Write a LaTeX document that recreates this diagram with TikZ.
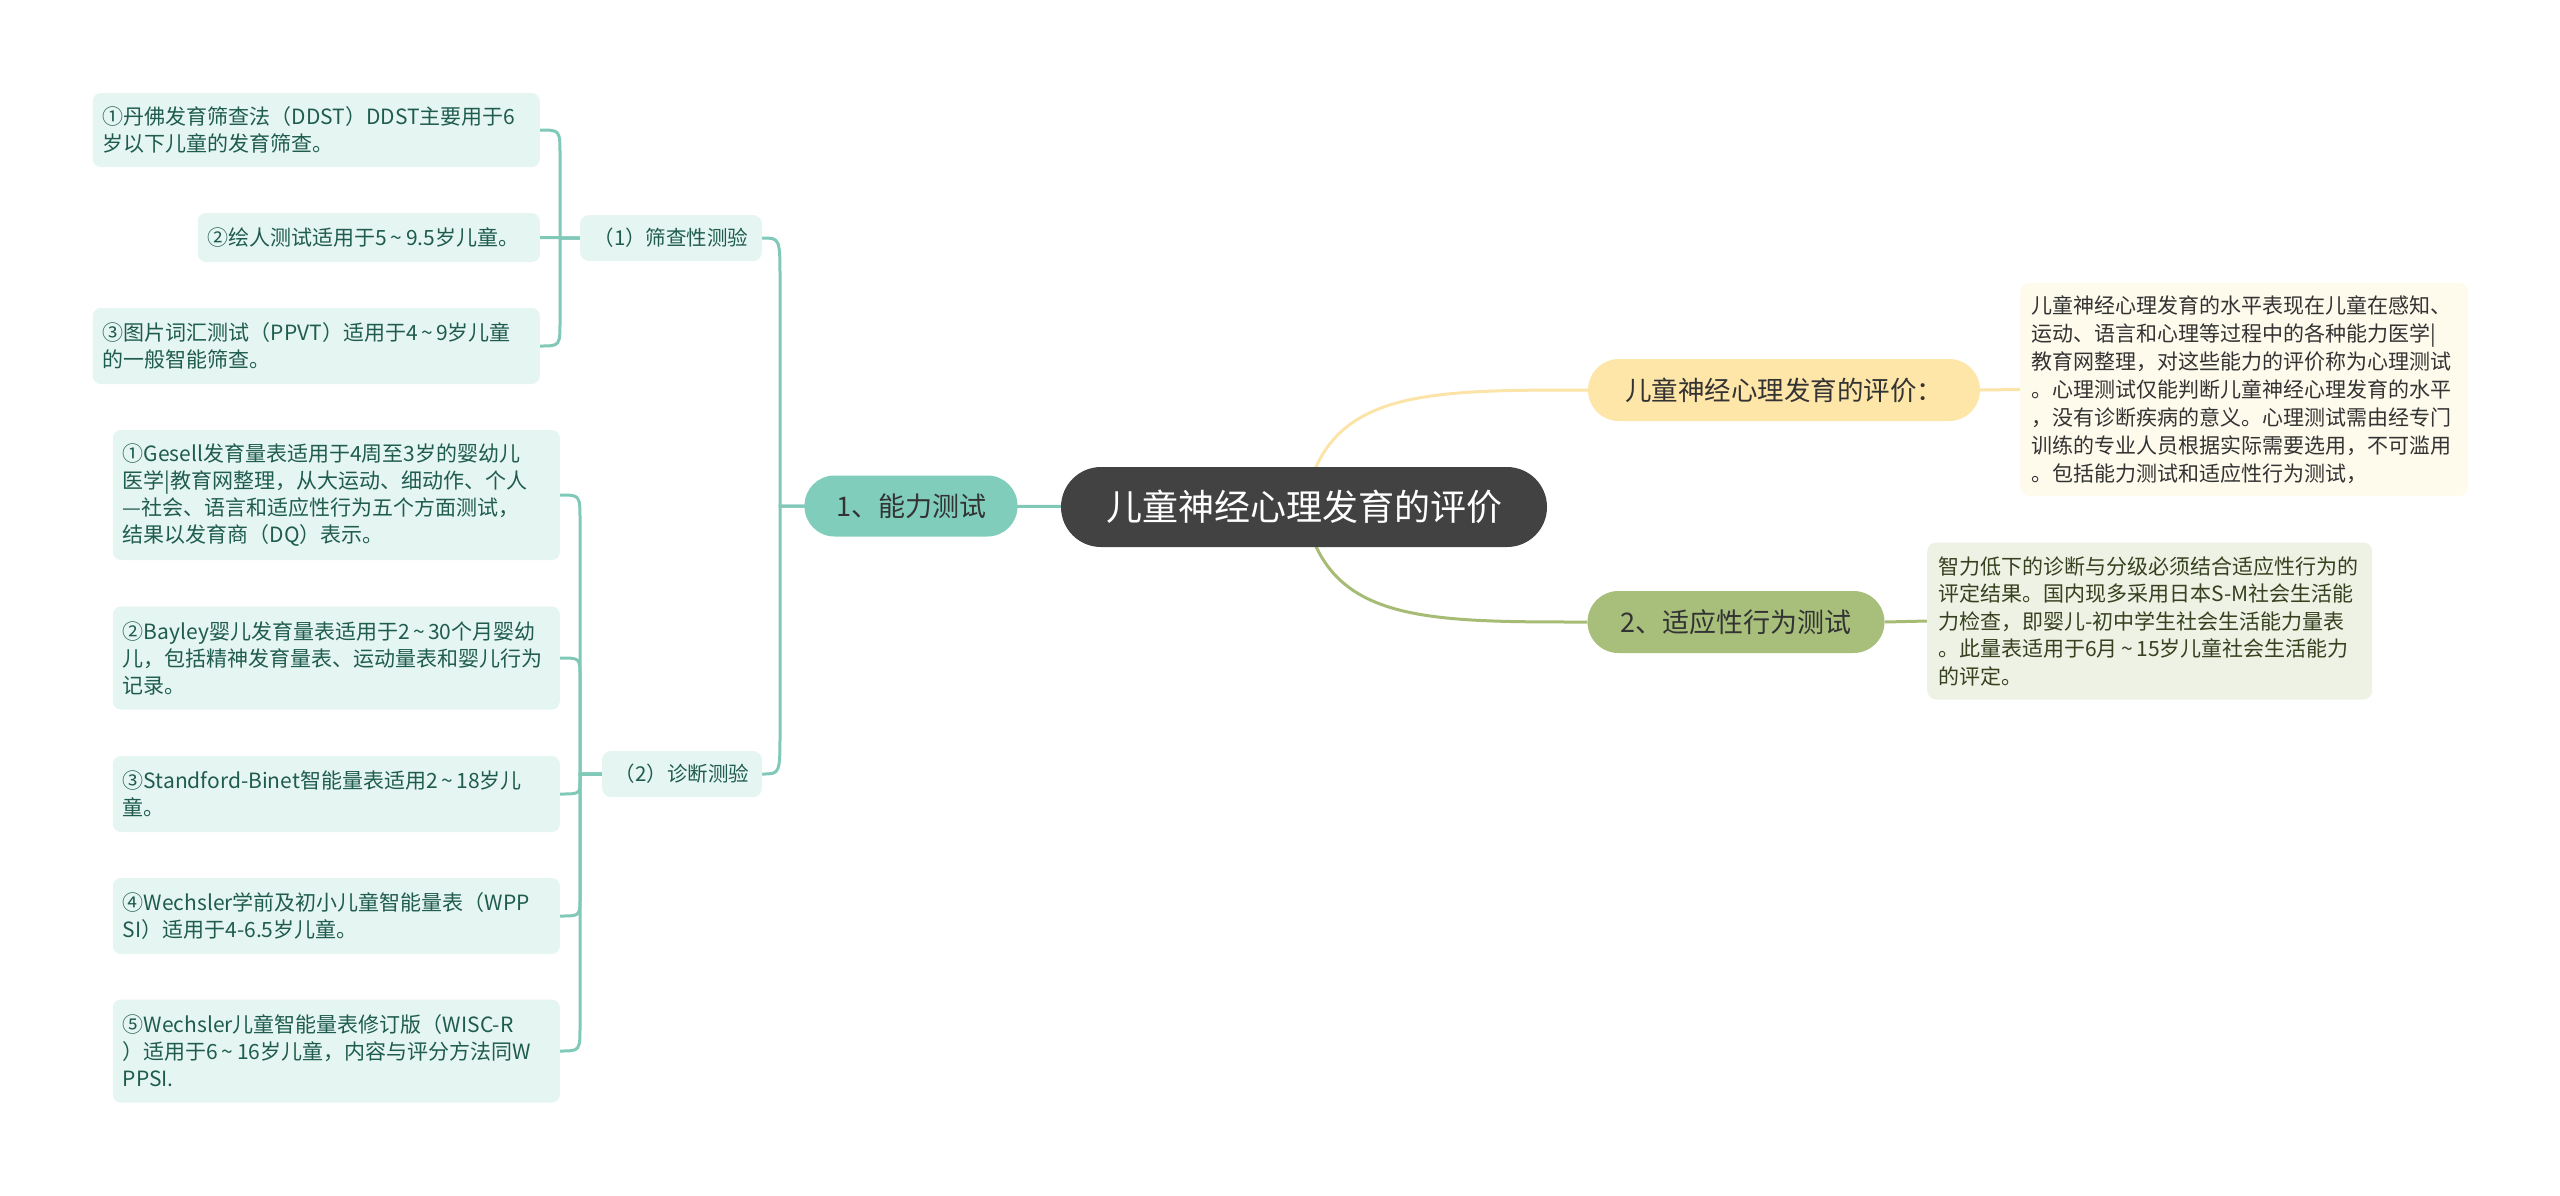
\documentclass[tikz,border=0pt]{standalone}
\usepackage{fontspec}
\setmainfont{Noto Sans CJK SC}
\usepackage{tikz}
\usetikzlibrary{backgrounds}
\definecolor{rootgray}{HTML}{424242}
\definecolor{tealnode}{HTML}{80CDBC}
\definecolor{tealline}{HTML}{80C8B8}
\definecolor{tealleaf}{HTML}{E5F5F1}
\definecolor{tealtext}{HTML}{1F5C4F}
\definecolor{yellownode}{HTML}{FEE5A8}
\definecolor{yellowline}{HTML}{FCE4A8}
\definecolor{yellowdesc}{HTML}{FEFAEC}
\definecolor{greennode}{HTML}{A7BF7B}
\definecolor{greenline}{HTML}{A6BB74}
\definecolor{greendesc}{HTML}{EEF2E5}
\definecolor{greentext}{HTML}{37401F}
\definecolor{darktext}{HTML}{333333}
\newcommand{\wave}{\,\textasciitilde\,}

\begin{document}
\begin{tikzpicture}[x=1pt,y=-1pt,line cap=round,line join=round,
  leafbox/.style={fill=tealleaf,text=tealtext,rounded corners=8pt,align=left,
    inner xsep=10pt,inner ysep=0pt,anchor=east,font=\fontsize{21}{27}\selectfont},
  subbox/.style={fill=tealleaf,text=tealtext,rounded corners=9pt,inner sep=0pt,
    minimum height=46pt,font=\fontsize{20.5}{25}\selectfont},
  descbox/.style={rounded corners=9pt,align=left,inner xsep=11pt,inner ysep=0pt,anchor=west},
  tealwire/.style={draw=tealline,line width=3pt},
  yellowwire/.style={draw=yellowline,line width=3pt},
  greenwire/.style={draw=greenline,line width=3pt}]
\useasboundingbox (0,0) rectangle (2560,1195);

\node[fill=rootgray,text=white,rounded corners=40pt,minimum width=486pt,minimum height=80pt,
  inner sep=0pt,font=\fontsize{36}{40}\selectfont] (root) at (1304,507) {儿童神经心理发育的评价};

\node[fill=tealnode,text=darktext,rounded corners=30pt,minimum width=213pt,minimum height=61pt,
  inner sep=0pt,font=\fontsize{27}{30}\selectfont] (ability) at (911,506) {1、能力测试};
\node[fill=yellownode,text=darktext,rounded corners=31pt,minimum width=392pt,minimum height=62pt,
  inner sep=0pt,font=\fontsize{26.5}{30}\selectfont] (evaluation) at (1784,390) {儿童神经心理发育的评价：};
\node[fill=greennode,text=darktext,rounded corners=31pt,minimum width=297pt,minimum height=62pt,
  inner sep=0pt,font=\fontsize{27}{30}\selectfont] (adaptive) at (1736,622) {2、适应性行为测试};

\node[subbox,minimum width=182pt] (screening) at (671,238) {（1）筛查性测验};
\node[subbox,minimum width=160pt] (diagnosis) at (682,774) {（2）诊断测验};

\node[leafbox,text width=427pt,minimum height=74pt] (ddst) at (540,130)
  {①丹佛发育筛查法（DDST）DDST主要用于6\\岁以下儿童的发育筛查。};
\node[leafbox,text width=322pt,minimum height=49pt] (draw) at (540,237.5)
  {②绘人测试适用于5\wave 9.5岁儿童。};
\node[leafbox,text width=427pt,minimum height=76pt] (ppvt) at (540,346)
  {③图片词汇测试（PPVT）适用于4\wave 9岁儿童\\的一般智能筛查。};

\node[leafbox,text width=427pt,minimum height=130pt] (gesell) at (560,495)
  {①Gesell发育量表适用于4周至3岁的婴幼儿\\医学|教育网整理，从大运动、细动作、个人\\—社会、语言和适应性行为五个方面测试，\\结果以发育商（DQ）表示。};
\node[leafbox,text width=427pt,minimum height=103pt] (bayley) at (560,658)
  {②Bayley婴儿发育量表适用于2\wave 30个月婴幼\\儿，包括精神发育量表、运动量表和婴儿行为\\记录。};
\node[leafbox,text width=427pt,minimum height=76pt] (binet) at (560,794)
  {③Standford-Binet智能量表适用2\wave 18岁儿\\童。};
\node[leafbox,text width=427pt,minimum height=76pt] (wppsi) at (560,916)
  {④Wechsler学前及初小儿童智能量表（WPP\\SI）适用于4-6.5岁儿童。};
\node[leafbox,text width=427pt,minimum height=103pt] (wisc) at (560,1051)
  {⑤Wechsler儿童智能量表修订版（WISC-R\\）适用于6\wave 16岁儿童，内容与评分方法同W\\PPSI.};

\node[descbox,fill=yellowdesc,text=darktext,text width=426pt,minimum height=213pt,
  font=\fontsize{21}{28}\selectfont] (evaldesc) at (2020,389.5)
  {儿童神经心理发育的水平表现在儿童在感知、\\运动、语言和心理等过程中的各种能力医学|\\教育网整理，对这些能力的评价称为心理测试\\。心理测试仅能判断儿童神经心理发育的水平\\，没有诊断疾病的意义。心理测试需由经专门\\训练的专业人员根据实际需要选用，不可滥用\\。包括能力测试和适应性行为测试，};
\node[descbox,fill=greendesc,text=greentext,text width=423pt,minimum height=157pt,
  font=\fontsize{21}{27.5}\selectfont] (adaptdesc) at (1927,621)
  {智力低下的诊断与分级必须结合适应性行为的\\评定结果。国内现多采用日本S-M社会生活能\\力检查，即婴儿-初中学生社会生活能力量表\\。此量表适用于6月\wave 15岁儿童社会生活能力\\的评定。};

\begin{scope}[on background layer]
\draw[tealwire] (root.center) -- (ability.center);
\draw[tealwire] (ability.center) -- (780,506) -- (780,280) .. controls (780,238) .. (screening.east);
\draw[tealwire] (ability.center) -- (780,506) -- (780,732) .. controls (780,774) .. (diagnosis.east);
\draw[tealwire] (ddst.east) .. controls (560,130) .. (560,155) -- (560,238) -- (screening.west);
\draw[tealwire] (draw.east) -- (screening.west);
\draw[tealwire] (ppvt.east) .. controls (560,346) .. (560,321) -- (560,238) -- (screening.west);
\draw[tealwire] (gesell.east) .. controls (580,495) .. (580,520) -- (580,774) -- (diagnosis.west);
\draw[tealwire] (bayley.east) .. controls (580,658) .. (580,676) -- (580,774) -- (diagnosis.west);
\draw[tealwire] (binet.east) .. controls (580,794) .. (580,780) -- (580,774) -- (diagnosis.west);
\draw[tealwire] (wppsi.east) .. controls (580,916) .. (580,898) -- (580,774) -- (diagnosis.west);
\draw[tealwire] (wisc.east) .. controls (580,1051) .. (580,1026) -- (580,774) -- (diagnosis.west);
\draw[yellowwire] (root.center) .. controls (1325,390) and (1420,390) .. (evaluation.west);
\draw[yellowwire] (evaluation.east) -- (evaldesc.west);
\draw[greenwire] (root.center) .. controls (1325,622) and (1420,622) .. (adaptive.west);
\draw[greenwire] (adaptive.east) -- (adaptdesc.west);
\end{scope}
\end{tikzpicture}
\end{document}
